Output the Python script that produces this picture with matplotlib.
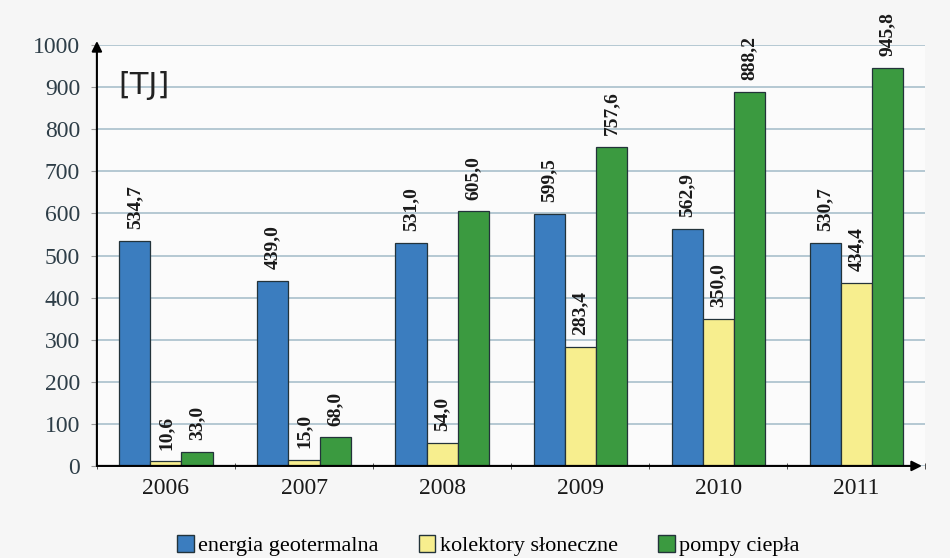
import numpy as np
import matplotlib.pyplot as plt
from matplotlib.patches import Patch

years = ['2006', '2007', '2008', '2009', '2010', '2011']
geotermalna = [534.7, 439.0, 531.0, 599.5, 562.9, 530.7]
kolektory = [10.6, 15.0, 54.0, 283.4, 350.0, 434.4]
pompy = [33.0, 68.0, 605.0, 757.6, 888.2, 945.8]

series = [
    ('energia geotermalna', geotermalna, '#3b7dbf'),
    ('kolektory słoneczne', kolektory, '#f7ee8e'),
    ('pompy ciepła', pompy, '#3b9a40'),
]

serif = ['Liberation Serif', 'DejaVu Serif']
tick_color = '#2e3e48'

fig = plt.figure(figsize=(9.5, 5.58), dpi=100, facecolor='#f6f6f6')
ax = fig.add_axes([0.102, 0.165, 0.872, 0.754])
ax.set_facecolor('#fbfbfb')

x = np.arange(len(years))
w = 0.225
for i, (name, vals, col) in enumerate(series):
    pos = x + (i - 1) * w
    ax.bar(pos, vals, width=w, color=col, edgecolor='#23333a', linewidth=0.9, zorder=3)
    for px, v in zip(pos, vals):
        ax.text(px, v + 28, f'{v:.1f}'.replace('.', ','), rotation=90,
                ha='center', va='bottom', fontsize=14, fontweight='bold',
                family=serif, color='#1a1a1a', zorder=4)

ax.set_xlim(-0.5, 5.5)
ax.set_ylim(0, 1000)
ax.set_yticks(np.arange(0, 1001, 100))
ax.set_yticklabels([str(v) for v in range(0, 1001, 100)], family=serif,
                   fontsize=17, color=tick_color)
ax.set_xticks(x)
ax.set_xticklabels(years, family=serif, fontsize=17, color='#1a1a1a')
ax.tick_params(axis='x', length=0, pad=9)
ax.set_xticks(np.arange(-0.5, 6.0, 1.0), minor=True)
ax.tick_params(axis='x', which='minor', length=5, direction='inout', color='#333333')
ax.tick_params(axis='y', length=4, color='#999999', pad=8)

ax.grid(axis='y', color='#a9bfcc', linewidth=1.2, zorder=0)
ax.set_axisbelow(True)
for s in ax.spines.values():
    s.set_visible(False)

# axis arrows
ax.annotate('', xy=(0, 1.01), xytext=(0, 0), xycoords='axes fraction',
            arrowprops=dict(arrowstyle='-|>', color='black', lw=1.5,
                            mutation_scale=15, shrinkA=0, shrinkB=0))
ax.annotate('', xy=(0.996, 0), xytext=(0, 0), xycoords='axes fraction',
            arrowprops=dict(arrowstyle='-|>', color='black', lw=1.5,
                            mutation_scale=15, shrinkA=0, shrinkB=0))

ax.text(0.026, 0.905, '[TJ]', transform=ax.transAxes, fontsize=22,
        family='DejaVu Sans', color='#222222', va='center')

handles = [Patch(facecolor=c, edgecolor='#23333a', label=n) for n, _, c in series]
fig.legend(handles=handles, loc='center', bbox_to_anchor=(0.514, 0.022), ncol=3,
           frameon=False, prop={'family': serif, 'size': 16},
           handlelength=0.75, handleheight=0.75, handletextpad=0.2, columnspacing=1.8)

fig.savefig('out.png', dpi=100, facecolor=fig.get_facecolor())
